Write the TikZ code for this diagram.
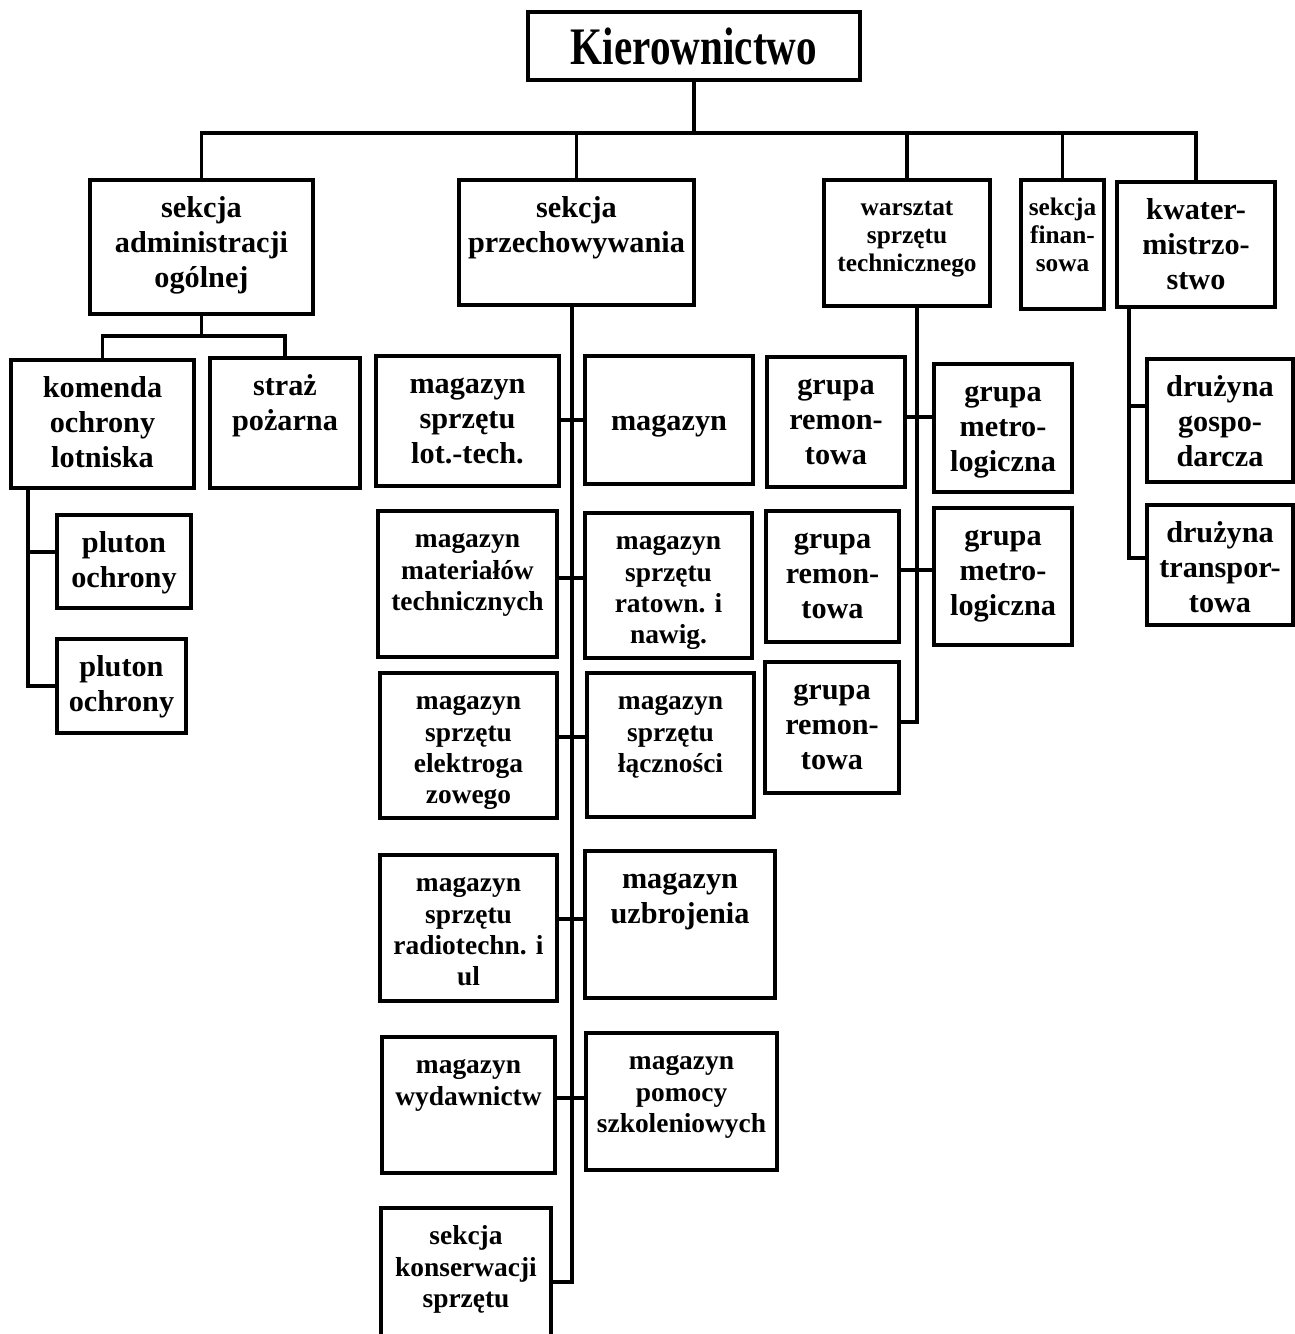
\documentclass[tikz,border=0pt]{standalone}
\usepackage{fontspec}
\setmainfont{Liberation Serif}
\newfontfamily\headfont[FakeStretch=0.78]{Liberation Serif}
\usetikzlibrary{fit}

\tikzset{
  box/.style={draw, line width=1pt, inner sep=0pt},
  txt/.style={anchor=north, yshift=-0.07cm, inner sep=2pt, align=center,
    font=\fontsize{8.6}{10}\selectfont\bfseries},
  tighttxt/.style={txt, yshift=-0.02cm, font=\fontsize{7.8}{8.9}\selectfont\bfseries},
  smalltxt/.style={txt, yshift=-0.03cm, font=\fontsize{7.2}{8}\selectfont\bfseries},
  link/.style={line width=0.9pt}
}

\begin{document}
\begin{tikzpicture}[x=0.01cm, y=-0.01cm]
\useasboundingbox (0,0) rectangle (1294,1334);
\fill[white] (0,0) rectangle (1294,1334);

% Top level
\node[box, fit={(528,12) (860,80)}] (kier) {};
\node[font=\headfont\fontsize{15}{16}\selectfont\bfseries] (kiertxt) at (kier.center) {Kierownictwo};

% Sections
\node[box, fit={(90,180) (313,314)}, label={[txt]north:{\strut sekcja\\administracji\\ogólnej}}] (admin) {};
\node[box, fit={(459,180) (694,305)}, label={[txt]north:{\strut sekcja\\przechowywania}}] (przech) {};
\node[box, fit={(824,180) (990,306)}, label={[smalltxt]north:{\strut warsztat\\sprzętu\\technicznego}}] (warsz) {};
\node[box, fit={(1021,180) (1104,309)}, label={[smalltxt]north:{\strut sekcja\\finan-\\sowa}}] (finans) {};
\node[box, fit={(1117,182) (1275,307)}, label={[txt]north:{\strut kwater-\\mistrzo-\\stwo}}] (kwat) {};

% Administration
\node[box, fit={(11,360) (194,488)}, label={[txt]north:{\strut komenda\\ochrony\\lotniska}}] (kom) {};
\node[box, fit={(210,358) (360,488)}, label={[txt]north:{\strut straż\\pożarna}}] (straz) {};
\node[box, fit={(57,515) (191,608)}, label={[txt]north:{\strut pluton\\ochrony}}] (plut1) {};
\node[box, fit={(57,639) (186,733)}, label={[txt]north:{\strut pluton\\ochrony}}] (plut2) {};

% Storage
\node[box, fit={(376,356) (559,486)}, label={[txt]north:{\strut magazyn\\sprzętu\\lot.-tech.}}] (mag1l) {};
\node[box, fit={(585,356) (753,484)}] (mag1r) {};
\node[font=\fontsize{8.6}{10}\selectfont\bfseries] (mag1rtxt) at ([yshift=-0.06cm]mag1r.center) {magazyn};
\node[box, fit={(378,511) (557,657)}, label={[tighttxt]north:{\strut magazyn\\materiałów\\technicznych}}] (mag2l) {};
\node[box, fit={(585,513) (752,658)}, label={[tighttxt]north:{\strut magazyn\\sprzętu\\ratown. i\\nawig.}}] (mag2r) {};
\node[box, fit={(380,673) (557,818)}, label={[tighttxt]north:{\strut magazyn\\sprzętu\\elektroga\\zowego}}] (mag3l) {};
\node[box, fit={(587,673) (754,817)}, label={[tighttxt]north:{\strut magazyn\\sprzętu\\łączności}}] (mag3r) {};
\node[box, fit={(380,855) (557,1001)}, label={[tighttxt]north:{\strut magazyn\\sprzętu\\radiotechn. i\\ul}}] (mag4l) {};
\node[box, fit={(585,851) (775,998)}, label={[txt]north:{\strut magazyn\\uzbrojenia}}] (mag4r) {};
\node[box, fit={(382,1037) (555,1173)}, label={[tighttxt]north:{\strut magazyn\\wydawnictw}}] (mag5l) {};
\node[box, fit={(586,1033) (777,1170)}, label={[tighttxt]north:{\strut magazyn\\pomocy\\szkoleniowych}}] (mag5r) {};
\node[box, fit={(381,1208) (551,1350)}, label={[tighttxt]north:{\strut sekcja\\konserwacji\\sprzętu}}] (kons) {};

% Workshop
\node[box, fit={(767,357) (905,487)}, label={[txt]north:{\strut grupa\\remon-\\towa}}] (rem1) {};
\node[box, fit={(934,364) (1072,492)}, label={[txt]north:{\strut grupa\\metro-\\logiczna}}] (met1) {};
\node[box, fit={(766,511) (899,642)}, label={[txt]north:{\strut grupa\\remon-\\towa}}] (rem2) {};
\node[box, fit={(934,508) (1072,645)}, label={[txt]north:{\strut grupa\\metro-\\logiczna}}] (met2) {};
\node[box, fit={(765,662) (899,793)}, label={[txt]north:{\strut grupa\\remon-\\towa}}] (rem3) {};

% Quartermaster
\node[box, fit={(1147,359) (1293,482)}, label={[txt]north:{\strut drużyna\\gospo-\\darcza}}] (druz1) {};
\node[box, fit={(1147,505) (1293,625)}, label={[txt]north:{\strut drużyna\\transpor-\\towa}}] (druz2) {};

% Connectors
\draw[link] (kier.south) -- (kier.south |- 0,133) coordinate (bus);
\foreach \n in {admin, przech, warsz, finans, kwat}
  \draw[link] (\n.north) |- (bus);

\draw[link] (admin.south) -- (admin.south |- 0,336) coordinate (adhub);
\draw[link] (kom.north) |- (adhub) -| (straz.north);
\draw[link] (kom.south -| 28,0) |- (plut2.west);
\draw[link] (plut1.west |- 0,552) -- ++(-29,0);

\draw[link] (przech.south -| 572,0) |- (kons.east |- 0,1282);
\draw[link] (mag1l.east |- 0,420) -- (mag1r.west |- 0,420);
\draw[link] (mag2l.east |- 0,578) -- (mag2r.west |- 0,578);
\draw[link] (mag3l.east |- 0,737) -- (mag3r.west |- 0,737);
\draw[link] (mag4l.east |- 0,919) -- (mag4r.west |- 0,919);
\draw[link] (mag5l.east |- 0,1098) -- (mag5r.west |- 0,1098);

\draw[link] (warsz.south -| 917,0) |- (rem3.east |- 0,722);
\draw[link] (rem1.east |- 0,417) -- (met1.west |- 0,417);
\draw[link] (rem2.east |- 0,570) -- (met2.west |- 0,570);

\draw[link] (kwat.south -| 1129,0) |- (druz2.west |- 0,558);
\draw[link] (druz1.west |- 0,406) -- ++(-18,0);
\end{tikzpicture}
\end{document}
